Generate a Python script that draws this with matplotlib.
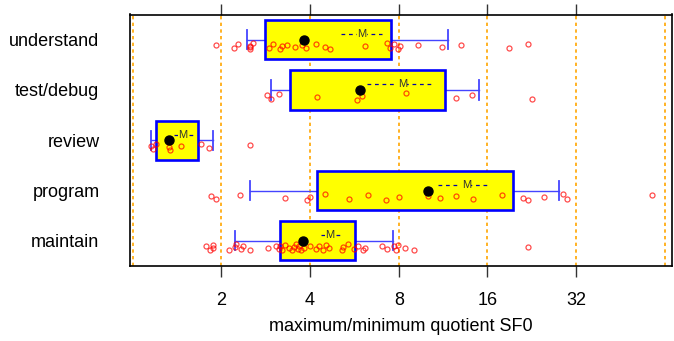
import numpy as np
import matplotlib
matplotlib.use('Agg')
from matplotlib import pyplot as plt

plt.rcParams['font.family'] = ['Liberation Sans', 'DejaVu Sans']

# rows, bottom to top
groups = ['maintain', 'program', 'review', 'test/debug', 'understand']

# box statistics (data units)
whisk_lo = [2.23, 2.50, 1.15, 2.94, 2.44]
q1 = [3.16, 4.23, 1.20, 3.41, 2.82]
median = [3.78, 10.08, 1.33, 5.89, 3.80]
q3 = [5.70, 19.6, 1.66, 11.48, 7.51]
whisk_hi = [7.65, 28.1, 1.87, 15.02, 11.75]
mean = [4.66, 13.57, 1.48, 8.23, 5.99]
mean_lo = [4.34, 10.87, 1.38, 6.24, 5.09]
mean_hi = [5.07, 16.37, 1.61, 10.32, 7.00]

# individual observations
pts_maintain = [1.78, 1.83, 1.87, 1.88, 2.12, 2.23, 2.25, 2.33, 2.37, 2.51,
                2.89, 3.07, 3.13, 3.17, 3.20, 3.28, 3.38, 3.47, 3.52, 3.57,
                3.64, 3.67, 3.74, 3.80, 4.00, 4.20, 4.30, 4.42, 4.52, 4.62,
                5.12, 5.19, 5.37, 5.62, 5.82, 6.05, 6.16, 7.02, 7.28, 7.73,
                7.81, 7.95, 8.40, 8.99, 21.90]
pts_program = [1.84, 1.92, 2.31, 3.28, 3.89, 4.01, 4.51, 5.42, 6.31, 7.26,
               7.99, 10.08, 11.01, 12.55, 14.33, 17.98, 21.07, 21.90, 24.88,
               28.96, 29.87, 57.9]
pts_review = [1.15, 1.17, 1.20, 1.33, 1.34, 1.46, 1.71, 1.81, 2.50]
pts_test = [2.85, 2.94, 3.13, 4.21, 5.77, 6.00, 8.46, 12.48, 14.14, 22.6]
pts_understand = [1.92, 2.20, 2.27, 2.50, 2.51, 2.51, 2.57, 2.90, 2.99, 3.15,
                  3.20, 3.34, 3.55, 3.75, 3.86, 4.20, 4.49, 4.66, 6.14, 7.30,
                  7.47, 7.71, 7.95, 8.06, 9.30, 11.21, 12.98, 18.99, 21.96]
points = [pts_maintain, pts_program, pts_review, pts_test, pts_understand]

xticks = [2, 4, 8, 16, 32]
gridlines = [1, 2, 4, 8, 16, 32, 64]

fig = plt.figure(figsize=(6.74, 3.41), dpi=100)
ax = fig.add_axes([130 / 674, 1 - 266 / 341, 542 / 674, 251.5 / 341])

ax.set_xscale('log', base=2)
ax.set_xlim(0.979, 67.7)
ax.set_ylim(0.5, 5.5)

for g in gridlines:
    ax.axvline(g, color='#FFA500', lw=1.2, ls=(0, (2, 2)), zorder=0)

# fixed jitter pattern (below the row centre, like the original)
jit = [0.30, 0.85, 0.10, 0.60, 1.00, 0.45, 0.00, 0.75, 0.20, 0.90, 0.55, 0.35, 0.70]

h = 0.78
for i, name in enumerate(groups):
    y = i + 1
    # whiskers
    ax.plot([whisk_lo[i], q1[i]], [y, y], color='#4444FF', lw=1, zorder=2)
    ax.plot([q3[i], whisk_hi[i]], [y, y], color='#4444FF', lw=1, zorder=2)
    ax.plot([whisk_lo[i]] * 2, [y - 0.19, y + 0.19], color='#4444FF', lw=1.3, zorder=2)
    ax.plot([whisk_hi[i]] * 2, [y - 0.19, y + 0.19], color='#4444FF', lw=1.3, zorder=2)
    # box
    ax.fill([q1[i], q3[i], q3[i], q1[i]], [y - h / 2, y - h / 2, y + h / 2, y + h / 2],
            facecolor='#FFFF00', edgecolor='#0000FF', lw=1.9, zorder=3)
    # observations
    yy = [y - 0.07 - 0.12 * jit[k % len(jit)] for k in range(len(points[i]))]
    ax.plot(points[i], yy, 'o', ms=3.6, mfc='none', mec='#FF0000', mew=0.9,
            alpha=0.7, zorder=4)
    # median dot
    ax.plot(median[i], y, 'o', ms=6.5, color='black', zorder=5)
    # mean +- standard error
    ym = y + 0.11
    ax.plot([mean_lo[i], mean_hi[i]], [ym, ym], color='#0000AA', lw=0.9,
            ls=(0, (3, 3)), zorder=5)
    ax.text(mean[i], ym, 'M', fontsize=8, ha='center', va='center', color='#333333',
            zorder=6, bbox=dict(facecolor='#FFFF00', edgecolor='none', pad=0.3))

ax.set_yticks(range(1, 6))
ax.set_yticklabels(groups, fontsize=13)
ax.tick_params(axis='y', length=0, pad=22)

ax.set_xticks(xticks)
ax.set_xticklabels([str(t) for t in xticks], fontsize=13)
ax.xaxis.set_minor_locator(matplotlib.ticker.NullLocator())
ax.tick_params(axis='x', which='major', direction='out', length=8, width=1,
               pad=11, top=True, labeltop=False, color='#333333')
ax.set_xlabel('maximum/minimum quotient SF0', fontsize=13, labelpad=6)

for s in ax.spines.values():
    s.set_linewidth(1.2)

fig.savefig('out.png', dpi=100)
